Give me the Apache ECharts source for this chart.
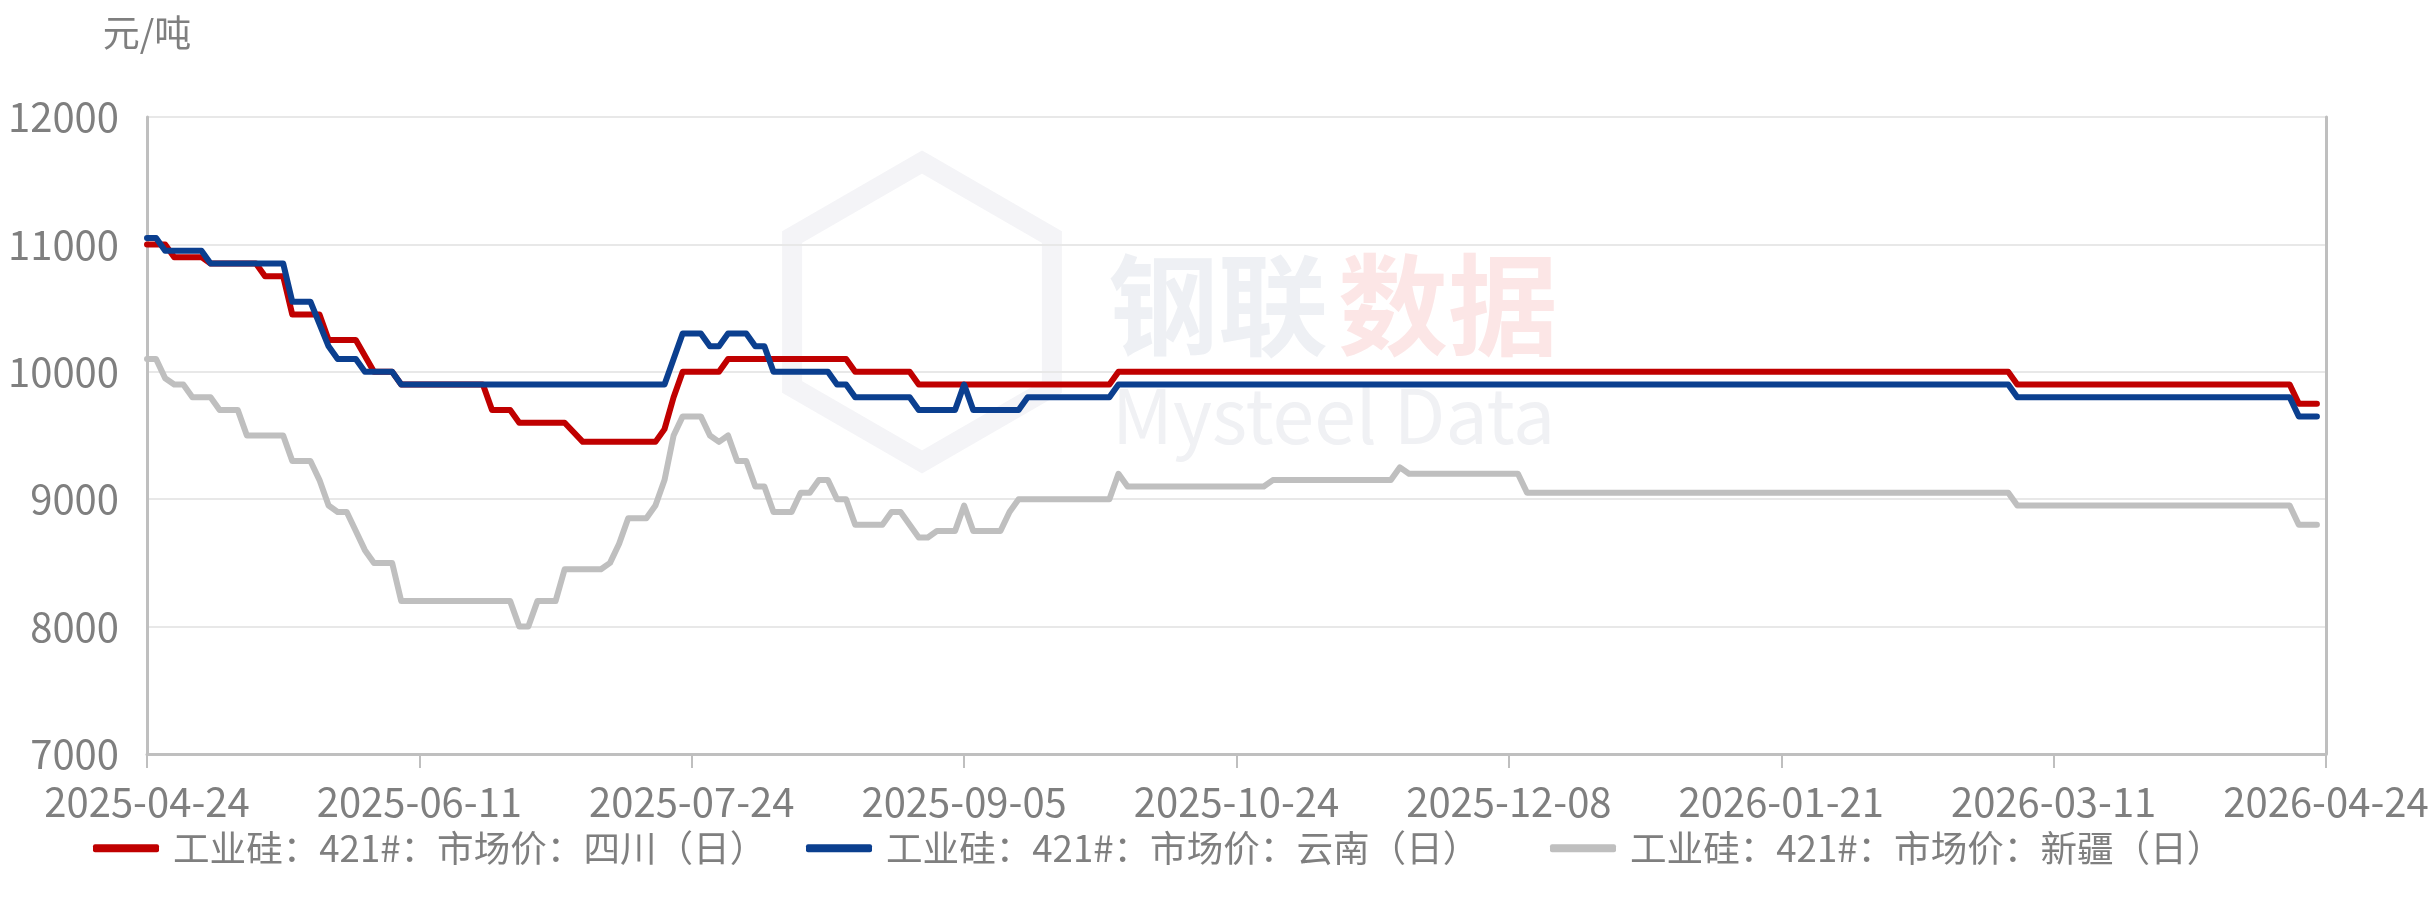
<!DOCTYPE html>
<html>
<head>
<meta charset="utf-8">
<script src="https://cdn.jsdelivr.net/npm/echarts@6/dist/echarts.min.js"></script>
<style>
  html, body { margin: 0; padding: 0; background: #fff; }
  #chart { width: 2430px; height: 916px; }
</style>
</head>
<body>
<div id="chart"></div>
<script>
// x = trading-day index from 2025-04-24, labels every 30 days
const xLabels = ["2025-04-24", "2025-06-11", "2025-07-24", "2025-09-05", "2025-10-24",
  "2025-12-08", "2026-01-21", "2026-03-11", "2026-04-24"];
const yTicks = [7000, 8000, 9000, 10000, 11000, 12000];

const seriesNames = [
  "工业硅：421#：市场价：四川（日）",
  "工业硅：421#：市场价：云南（日）",
  "工业硅：421#：市场价：新疆（日）"
];

const sichuan = [
  [0, 11000], [2, 11000], [3, 10900], [6, 10900], [7, 10850], [12, 10850], [13, 10750],
  [15, 10750], [16, 10450], [19, 10450], [20, 10250], [23, 10250], [25, 10000], [27, 10000],
  [28, 9900], [37, 9900], [38, 9700], [40, 9700], [41, 9600], [46, 9600], [48, 9450],
  [56, 9450], [57, 9550], [58, 9800], [59, 10000], [63, 10000], [64, 10100], [77, 10100],
  [78, 10000], [84, 10000], [85, 9900], [106, 9900], [107, 10000], [205, 10000], [206, 9900],
  [236, 9900], [237, 9750], [239, 9750]
];

const yunnan = [
  [0, 11050], [1, 11050], [2, 10950], [6, 10950], [7, 10850], [15, 10850], [16, 10550],
  [18, 10550], [20, 10200], [21, 10100], [23, 10100], [24, 10000], [27, 10000], [28, 9900],
  [57, 9900], [58, 10100], [59, 10300], [61, 10300], [62, 10200], [63, 10200], [64, 10300],
  [66, 10300], [67, 10200], [68, 10200], [69, 10000], [75, 10000], [76, 9900], [77, 9900],
  [78, 9800], [84, 9800], [85, 9700], [89, 9700], [90, 9900], [91, 9700], [96, 9700],
  [97, 9800], [106, 9800], [107, 9900], [205, 9900], [206, 9800], [236, 9800], [237, 9650],
  [239, 9650]
];

const xinjiang = [
  [0, 10100], [1, 10100], [2, 9950], [3, 9900], [4, 9900], [5, 9800], [7, 9800], [8, 9700],
  [10, 9700], [11, 9500], [15, 9500], [16, 9300], [18, 9300], [19, 9150], [20, 8950],
  [21, 8900], [22, 8900], [23, 8750], [24, 8600], [25, 8500], [27, 8500], [28, 8200],
  [40, 8200], [41, 8000], [42, 8000], [43, 8200], [45, 8200], [46, 8450], [50, 8450],
  [51, 8500], [52, 8650], [53, 8850], [55, 8850], [56, 8950], [57, 9150], [58, 9500],
  [59, 9650], [61, 9650], [62, 9500], [63, 9450], [64, 9500], [65, 9300], [66, 9300],
  [67, 9100], [68, 9100], [69, 8900], [71, 8900], [72, 9050], [73, 9050], [74, 9150],
  [75, 9150], [76, 9000], [77, 9000], [78, 8800], [81, 8800], [82, 8900], [83, 8900],
  [84, 8800], [85, 8700], [86, 8700], [87, 8750], [89, 8750], [90, 8950], [91, 8750],
  [94, 8750], [95, 8900], [96, 9000], [106, 9000], [107, 9200], [108, 9100], [123, 9100],
  [124, 9150], [137, 9150], [138, 9250], [139, 9200], [151, 9200], [152, 9050], [205, 9050],
  [206, 8950], [236, 8950], [237, 8800], [239, 8800]
];

const colors = ["#C00000", "#0B3F8F", "#BFBFBF"];
const font = "'Noto Sans CJK SC', 'Noto Sans', sans-serif";

const chart = echarts.init(document.getElementById("chart"));

const lineSeries = (name, data, color) => ({
  name,
  type: "line",
  data,
  showSymbol: false,
  symbol: "none",
  smooth: false,
  z: 3,
  lineStyle: { color, width: 6, join: "round", cap: "round" },
  itemStyle: { color }
});

// one legend per series so each item sits where the original has it
const legendLefts = [93, 806, 1550];
const legends = seriesNames.map((name, i) => ({
  left: legendLefts[i],
  top: 830,
  padding: 0,
  icon: "roundRect",
  itemWidth: 66,
  itemHeight: 8,
  textStyle: { color: "#7f7f7f", fontSize: 36.6, fontFamily: font, padding: [0, 0, 0, 9] },
  data: [name]
}));

// faint watermark hexagon (pointy top)
const hexCx = 922, hexCy = 312, hexR = 150;
const hexPoints = [0, 1, 2, 3, 4, 5].map((k) => {
  const a = Math.PI / 180 * (60 * k - 90);
  return [hexCx + hexR * Math.cos(a), hexCy + hexR * Math.sin(a)];
});

chart.setOption({
  backgroundColor: "#fff",
  animation: false,
  color: colors,
  textStyle: { fontFamily: font },
  grid: { left: 147, right: 104, top: 117, bottom: 162, outerBoundsMode: "none", containLabel: false },
  graphic: [
    {
      type: "polygon", z: 0, silent: true,
      shape: { points: hexPoints },
      style: { fill: "none", stroke: "#f4f4f7", lineWidth: 20 }
    },
    {
      type: "text", left: 1108, top: 250, z: 0, silent: true,
      style: { text: "钢联", font: "bold 110px " + font, fill: "#eef0f4" }
    },
    {
      type: "text", left: 1338, top: 250, z: 0, silent: true,
      style: { text: "数据", font: "bold 110px " + font, fill: "#fce6e6" }
    },
    {
      type: "text", left: 1112, top: 378, z: 0, silent: true,
      style: { text: "Mysteel Data", font: "75px " + font, fill: "#f0f1f4" }
    }
  ],
  legend: legends,
  xAxis: {
    type: "value",
    min: 0,
    max: 240,
    interval: 30,
    axisLine: { show: true, lineStyle: { color: "#bfbfbf", width: 3 } },
    axisTick: { show: true, length: 14, lineStyle: { color: "#bfbfbf", width: 2 } },
    splitLine: { show: false },
    axisLabel: {
      color: "#7f7f7f",
      fontSize: 40,
      margin: 28,
      fontFamily: font,
      formatter: (v) => xLabels[Math.round(v / 30)] || ""
    }
  },
  yAxis: [
    {
      type: "value",
      min: yTicks[0],
      max: yTicks[yTicks.length - 1],
      interval: 1000,
      name: "元/吨",
      nameLocation: "end",
      nameGap: 66,
      nameTextStyle: { color: "#7f7f7f", fontSize: 37, fontFamily: font },
      axisLine: { show: true, lineStyle: { color: "#bfbfbf", width: 3 } },
      axisTick: { show: false },
      splitLine: { show: true, lineStyle: { color: "#e8e8e8", width: 2 } },
      axisLabel: {
        color: "#7f7f7f", fontSize: 40, margin: 28, fontFamily: font,
        formatter: (v) => String(v)
      }
    },
    {
      type: "value",
      position: "right",
      min: yTicks[0],
      max: yTicks[yTicks.length - 1],
      axisLine: { show: true, lineStyle: { color: "#bfbfbf", width: 3 } },
      axisTick: { show: false },
      axisLabel: { show: false },
      splitLine: { show: false }
    }
  ],
  series: [
    lineSeries(seriesNames[0], sichuan, colors[0]),
    lineSeries(seriesNames[1], yunnan, colors[1]),
    lineSeries(seriesNames[2], xinjiang, colors[2])
  ]
});
</script>
</body>
</html>
